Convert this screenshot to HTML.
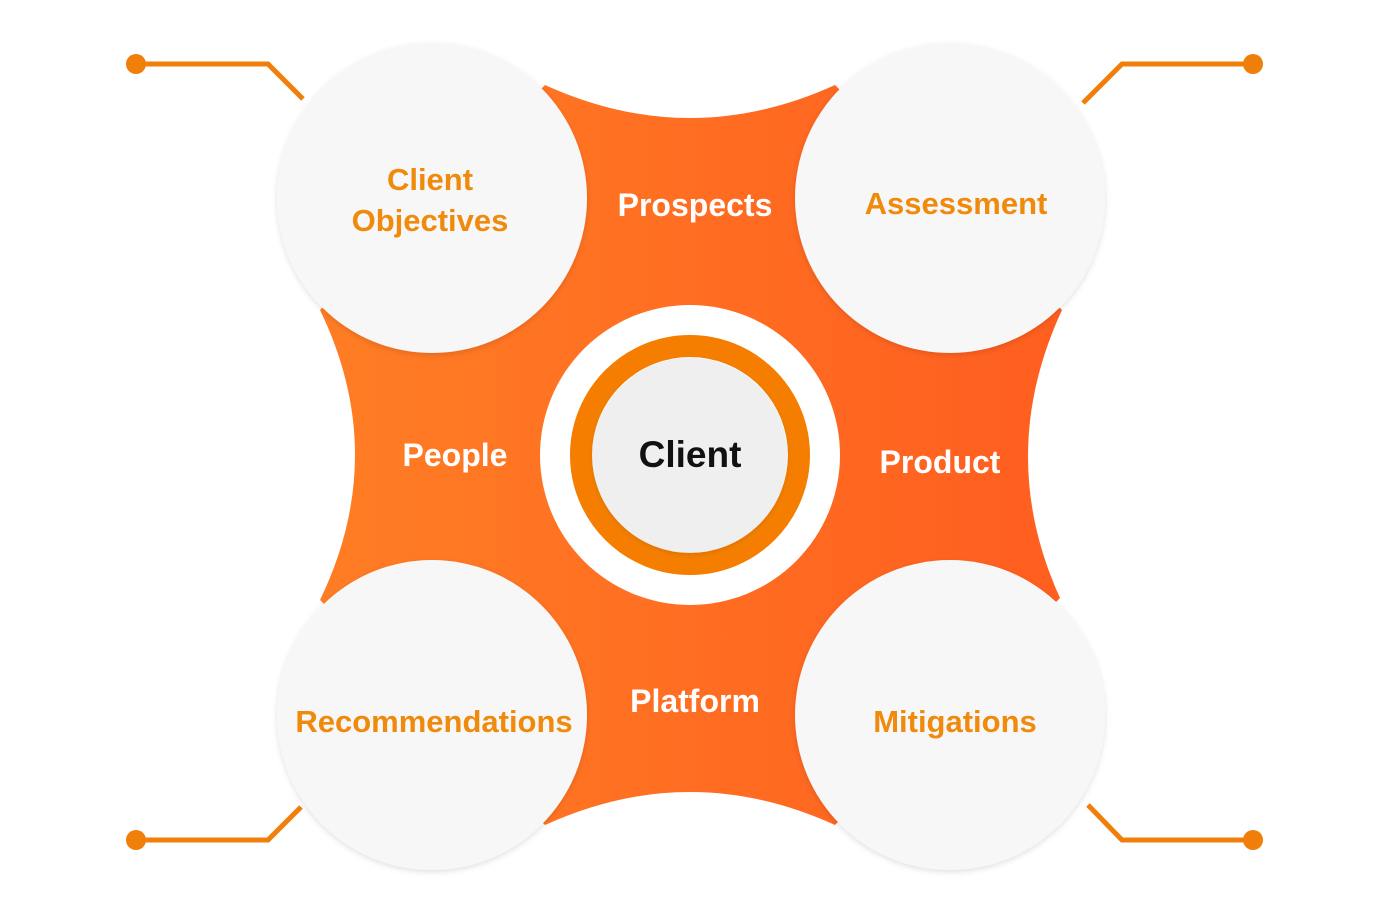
<!DOCTYPE html>
<html><head><meta charset="utf-8"><style>
html,body{margin:0;padding:0;background:#fff;}
svg{display:block;}
text{font-family:"Liberation Sans",Arial,sans-serif;font-weight:bold;}
</style></head><body>
<svg width="1391" height="918" viewBox="0 0 1391 918" xmlns="http://www.w3.org/2000/svg">
<defs>
<linearGradient id="g" x1="0" x2="1" y1="0" y2="0">
<stop offset="0" stop-color="#ff7d24"/><stop offset="1" stop-color="#ff5e1f"/>
</linearGradient>
<filter id="sh" x="-20%" y="-20%" width="140%" height="140%">
<feDropShadow dx="0" dy="2" stdDeviation="3" flood-color="#000" flood-opacity="0.12"/>
</filter>
</defs>
<g stroke="#f07f0a" stroke-width="5" fill="none">
<polyline points="136,64 268,64 303,99"/>
<polyline points="1253,64 1122,64 1083,103"/>
<polyline points="136,840 268,840 301,807"/>
<polyline points="1253,840 1122,840 1088,805"/>
</g>
<g fill="#f07f0a">
<circle cx="136" cy="64" r="10"/><circle cx="1253" cy="64" r="10"/>
<circle cx="136" cy="840" r="10"/><circle cx="1253" cy="840" r="10"/>
</g>
<path d="M545 85 Q690 151 835 85 L1062 310 Q995 455 1060 598 L835 825 Q690 759 545 825 L320 600 Q390 455 320 310 Z" fill="url(#g)"/>
<g fill="#f7f7f7" filter="url(#sh)">
<circle cx="432" cy="198" r="155"/>
<circle cx="950" cy="198" r="155"/>
<circle cx="432" cy="715" r="155"/>
<circle cx="950" cy="715" r="155"/>
</g>
<circle cx="690" cy="455" r="150" fill="#fff"/>
<circle cx="690" cy="455" r="109" fill="none" stroke="#f57e00" stroke-width="22"/>
<circle cx="690" cy="455" r="97" fill="#efefef" filter="url(#sh)"/>
<g font-size="31" text-anchor="middle" fill="#f08a0c">
<text x="430" y="190">Client</text>
<text x="430" y="231">Objectives</text>
<text x="956" y="214">Assessment</text>
<text x="434" y="732">Recommendations</text>
<text x="955" y="732">Mitigations</text>
</g>
<g font-size="32" text-anchor="middle" fill="#fff">
<text x="695" y="216">Prospects</text>
<text x="455" y="466">People</text>
<text x="940" y="473">Product</text>
<text x="695" y="712">Platform</text>
</g>
<text x="690" y="467" font-size="37" text-anchor="middle" fill="#111">Client</text>
</svg>
</body></html>
